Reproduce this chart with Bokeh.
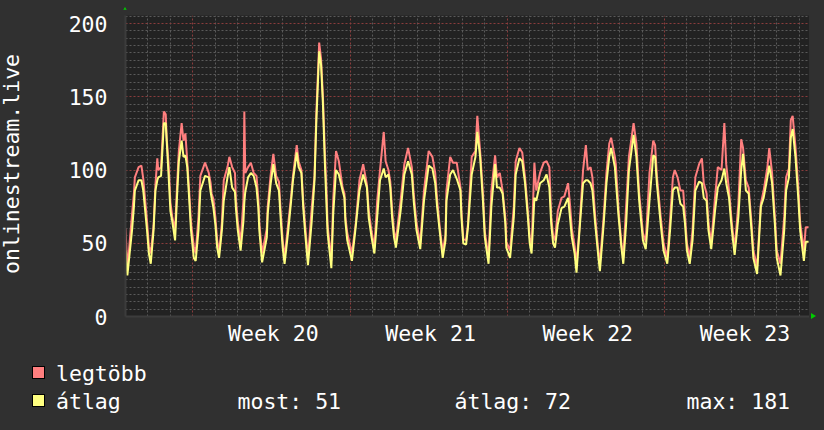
from bokeh.plotting import figure
from bokeh.layouts import column, row
from bokeh.models import Range1d, FixedTicker, Grid, Div
from bokeh.embed import file_html
from bokeh.resources import INLINE

# time in hours from left edge of the graph
hours = [0, 2, 7, 9, 10, 14, 17, 19, 23, 25, 27, 30, 32, 34, 35, 38, 41, 43, 44, 46, 48, 50, 53, 55, 57, 60, 62, 64, 66, 68,
         70, 73, 75, 78, 80, 85, 89, 91, 92, 94, 96, 98, 100, 103, 105, 109, 111, 114, 117, 118, 120, 123, 126, 127, 128, 131,
         134, 137, 140, 142, 143, 146, 151, 152, 155, 158, 161, 164, 166, 168, 170, 174, 177, 179, 183, 185, 188, 190, 192,
         195, 199, 202, 204, 207, 209, 211, 213, 215, 216, 220, 222, 225, 228, 232, 234, 235, 237, 242, 246, 250, 254, 258,
         260, 263, 266, 269, 272, 276, 278, 281, 283, 285, 287, 289, 294, 298, 302, 306, 308, 311, 315, 319, 324, 328, 331,
         333, 336, 339, 342, 343, 347, 350, 354, 358, 359, 361, 364, 366, 370, 374, 376, 379, 382, 384, 388, 391, 395, 397,
         400, 403, 406, 407, 411, 415, 417, 421, 424, 427, 430, 432, 434, 437, 439, 443, 447, 450, 453, 455, 457, 459, 462,
         466, 469, 473, 475, 477, 480, 482, 485, 489, 492, 494, 497, 499, 502, 505, 507, 511, 514, 517, 519, 523, 524, 527,
         530, 532, 535, 538, 543, 546, 549, 553, 556, 560, 564, 566, 568, 572, 575, 579, 582, 585, 587, 590, 593, 596, 598,
         600, 603, 606, 609, 613, 616, 618, 621, 623, 626, 630, 633, 637, 640, 642, 645, 648, 651, 655, 658, 660, 663, 666,
         669, 671, 675, 679, 682, 686, 688, 691, 694, 696, 700, 704, 706, 709, 711, 713, 716, 719, 721, 725, 727, 730]

max_vals = [60, 32, 70, 84, 95, 102, 103, 94, 65, 48, 43, 62, 90, 108, 100, 102, 140, 138, 122, 105, 78, 68, 59, 88, 113, 132,
            120, 125, 106, 86, 64, 48, 43, 68, 96, 105, 98, 91, 84, 80, 68, 52, 43, 64, 93, 102, 109, 102, 98, 80, 65, 50, 79,
            140, 98, 102, 105, 98, 96, 80, 64, 43, 60, 75, 96, 111, 96, 92, 70, 52, 40, 64, 82, 96, 117, 106, 100, 78, 62, 40,
            74, 96, 140, 187, 176, 150, 113, 83, 62, 38, 80, 113, 106, 88, 84, 68, 57, 43, 63, 93, 104, 90, 72, 58, 47, 79, 100,
            126, 106, 100, 92, 72, 58, 52, 79, 104, 115, 102, 84, 64, 50, 86, 113, 109, 98, 80, 60, 44, 56, 86, 109, 105, 105,
            88, 72, 53, 52, 63, 109, 113, 137, 113, 84, 58, 40, 86, 110, 95, 98, 86, 67, 51, 45, 75, 106, 115, 112, 95, 72, 54,
            47, 105, 86, 98, 105, 106, 102, 68, 55, 52, 72, 81, 82, 91, 77, 60, 48, 36, 59, 100, 117, 100, 102, 95, 68, 47, 36,
            68, 98, 118, 122, 109, 104, 72, 50, 40, 75, 109, 132, 118, 84, 57, 51, 98, 120, 117, 95, 68, 50, 40, 66, 95, 100, 95,
            86, 86, 68, 50, 40, 59, 95, 104, 108, 91, 84, 64, 50, 81, 102, 100, 132, 104, 86, 64, 46, 77, 121, 115, 93, 88, 64,
            45, 34, 77, 86, 102, 115, 98, 68, 45, 36, 68, 95, 101, 134, 137, 116, 88, 64, 45, 61, 61]

avg_vals = [45, 28, 59, 75, 86, 93, 93, 86, 59, 43, 36, 59, 86, 93, 95, 96, 132, 132, 120, 97, 72, 65, 52, 81, 106, 120, 109,
            110, 102, 81, 59, 40, 38, 59, 86, 96, 95, 85, 81, 74, 63, 47, 40, 59, 79, 95, 102, 88, 85, 74, 59, 45, 65, 78, 85, 95,
            98, 96, 88, 74, 59, 37, 54, 70, 90, 104, 91, 86, 65, 47, 36, 59, 79, 93, 112, 102, 98, 74, 57, 35, 65, 93, 134, 181,
            172, 145, 106, 73, 57, 33, 70, 100, 97, 86, 81, 65, 52, 38, 61, 86, 97, 88, 67, 54, 43, 68, 93, 101, 95, 97, 88, 67,
            54, 47, 72, 97, 106, 97, 79, 59, 46, 79, 103, 101, 91, 75, 57, 40, 52, 79, 97, 100, 94, 86, 68, 50, 49, 61, 97, 109,
            126, 109, 79, 54, 36, 75, 104, 88, 88, 84, 63, 47, 40, 68, 97, 108, 106, 91, 68, 50, 43, 81, 79, 91, 93, 97, 88, 63,
            50, 47, 63, 74, 75, 81, 68, 54, 43, 30, 57, 91, 93, 93, 91, 86, 63, 43, 31, 63, 91, 109, 115, 102, 93, 68, 47, 36, 63,
            100, 124, 109, 79, 52, 46, 79, 110, 109, 90, 63, 45, 36, 59, 86, 88, 88, 77, 75, 63, 45, 36, 52, 86, 92, 91, 81, 79,
            59, 46, 72, 88, 93, 101, 91, 81, 59, 42, 68, 100, 111, 86, 84, 59, 40, 29, 75, 81, 95, 103, 91, 63, 40, 28, 59, 86,
            95, 122, 128, 109, 81, 59, 38, 51, 51]

y_ticks = [0, 50, 100, 150, 200]
y_minor = [v for v in range(0, 206, 5) if v % 50 != 0]
week_label_pos = [158, 326, 494, 662]
week_labels = ["Week 20", "Week 21", "Week 22", "Week 23"]
week_starts = [72, 240, 408, 576]
day_lines = [h for h in range(0, 731, 24) if h not in week_starts]

y_title = "onlinestream.live"
legend_colors = ["#FF7F7F", "#FFFF80"]
legend_names = ["legtöbb", "átlag"]
stats = ["most: 51", "átlag: 72", "max: 181"]

FONT = "DejaVu Sans Mono"
FS = "21.5px"
BG = "#303030"
GREEN = "#00cc00"
TOP_H = 9
P_H = 6 + 301 + 34

# ---- main graph ----
p = figure(frame_width=684, frame_height=301,
           min_border_left=95, min_border_right=0, min_border_top=6, min_border_bottom=34,
           x_range=Range1d(0, 731), y_range=Range1d(0, 205.5),
           output_backend="svg", toolbar_location=None,
           background_fill_color="#222222", border_fill_color=BG, margin=0)
p.outline_line_color = None
p.xgrid.visible = False
p.ygrid.visible = False

for g in [
    Grid(dimension=0, ticker=FixedTicker(ticks=day_lines), grid_line_color="#5a5a5a", grid_line_dash="2 2"),
    Grid(dimension=1, ticker=FixedTicker(ticks=y_minor), grid_line_color="#5a5a5a", grid_line_dash="2 2"),
    Grid(dimension=0, ticker=FixedTicker(ticks=week_starts), grid_line_color="#8a3c3c", grid_line_dash="2 2"),
    Grid(dimension=1, ticker=FixedTicker(ticks=y_ticks), grid_line_color="#8a3c3c", grid_line_dash="2 2"),
]:
    p.add_layout(g)

p.line(hours, max_vals, line_color="#FF7F7F", line_width=2)
p.line(hours, avg_vals, line_color="#FFFF80", line_width=2)

p.xaxis.ticker = FixedTicker(ticks=week_label_pos)
p.xaxis.major_label_overrides = {t: l for t, l in zip(week_label_pos, week_labels)}
p.yaxis.ticker = FixedTicker(ticks=y_ticks)
for ax in (p.xaxis, p.yaxis):
    ax.major_tick_line_color = None
    ax.minor_tick_line_color = None
    ax.major_tick_out = 0
    ax.minor_tick_out = 0
    ax.major_tick_in = 0
    ax.minor_tick_in = 0
    ax.axis_line_color = "#3c3c3c"
    ax.axis_line_width = 2
    ax.major_label_text_color = "white"
    ax.major_label_text_font = FONT
    ax.major_label_text_font_size = FS
p.yaxis.major_label_standoff = 18
p.xaxis.major_label_standoff = 4

# ---- surrounding strips (HTML) ----
BASE = f"position:relative;background:{BG};color:#fff;font-family:'{FONT}';font-size:{FS};overflow:hidden;"

def box(left, top, color):
    return (f'<div style="position:absolute;left:{left}px;top:{top}px;width:13px;height:13px;'
            f'background:{color};border:1px solid #000;"></div>')

def txt(left, top, s):
    return (f'<div style="position:absolute;left:{left}px;top:{top}px;line-height:1;'
            f'white-space:pre;">{s}</div>')

top_html = (f'<div style="{BASE}width:824px;height:{TOP_H}px;">'
            f'<div style="position:absolute;left:122px;top:4px;width:0;height:0;'
            f'border-left:3px solid transparent;border-right:3px solid transparent;'
            f'border-bottom:5px solid {GREEN};"></div></div>')
top_div = Div(text=top_html, width=824, height=TOP_H, margin=0)

left_html = (f'<div style="{BASE}width:30px;height:{P_H}px;">'
             f'<div style="position:absolute;left:12px;top:{163.5 - TOP_H}px;line-height:1;white-space:nowrap;'
             f'transform:translate(-50%,-50%) rotate(-90deg);">{y_title}</div></div>')
left_div = Div(text=left_html, width=30, height=P_H, margin=0)

right_html = (f'<div style="{BASE}width:15px;height:{P_H}px;">'
              f'<div style="position:absolute;left:2px;top:{313 - TOP_H}px;width:0;height:0;'
              f'border-top:3px solid transparent;border-bottom:3px solid transparent;'
              f'border-left:5px solid {GREEN};"></div></div>')
right_div = Div(text=right_html, width=15, height=P_H, margin=0)

legend_html = (f'<div style="{BASE}width:824px;height:80px;">'
               + box(32, 16, legend_colors[0]) + txt(56, 13, legend_names[0])
               + box(32, 43.5, legend_colors[1]) + txt(56, 40.5, legend_names[1])
               + txt(237.5, 40.5, stats[0]) + txt(454.5, 40.5, stats[1]) + txt(686.5, 40.5, stats[2])
               + '</div>')
legend_div = Div(text=legend_html, width=824, height=80, margin=0)

layout = column(top_div, row(left_div, p, right_div, spacing=0, margin=0), legend_div,
                spacing=0, margin=0, styles={"background-color": BG})
open("out.html", "w").write(file_html(layout, INLINE))
